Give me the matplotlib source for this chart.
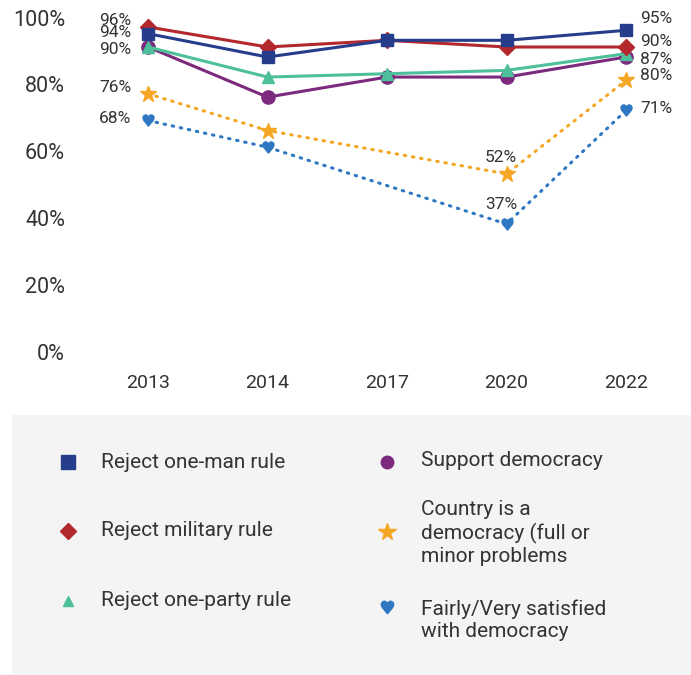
import numpy as np
import matplotlib
matplotlib.use('Agg')
import matplotlib.pyplot as plt
from matplotlib.transforms import ScaledTranslation

# Dane
years = ['2013', '2014', '2017', '2020', '2022']
one_man = [94, 87, 92, 92, 95]
military = [96, 90, 92, 90, 90]
one_party = [90, 81, 82, 83, 88]
support = [90, 75, 81, 81, 87]
is_democracy = [76, 65, np.nan, 52, 80]
satisfied = [68, 60, np.nan, 37, 71]

labels_2013 = {'military': '96%', 'one_man': '94%', 'one_party': '90%',
               'is_democracy': '76%', 'satisfied': '68%'}
labels_2020 = {'is_democracy': '52%', 'satisfied': '37%'}
labels_2022 = {'one_man': '95%', 'military': '90%', 'support': '87%',
               'is_democracy': '80%', 'satisfied': '71%'}

legend_names = ['Reject one-man rule', 'Reject military rule', 'Reject one-party rule',
                'Support democracy', 'Country is a\ndemocracy (full or\nminor problems',
                'Fairly/Very satisfied\nwith democracy']

# Stil
NAVY = '#263d8c'
RED = '#b3282d'
GREEN = '#4dbf9a'
PURPLE = '#7b2a7d'
ORANGE = '#f5a623'
BLUE = '#2f77c2'
TXT = '#333333'
HEART = '$\u2665$'

plt.rcParams['font.family'] = ['Roboto', 'DejaVu Sans']

W, H = 691, 675
fig = plt.figure(figsize=(W / 100, H / 100), dpi=100)


def fx(px):
    return px / W


def fy(py):
    return 1 - py / H


# Grafic principal
ax = fig.add_axes([fx(90), fy(362), fx(680) - fx(90), fy(5) - fy(362)])
x = np.arange(len(years))
x0, step = 148, 119.5
ax.set_xlim((90 - x0) / step, (680 - x0) / step)
ax.set_ylim((347.6 - 362) / 3.34, (347.6 - 5) / 3.34)

DOT = (0, (0.5, 2.2))
series = {
    'one_man': (one_man, NAVY, 's', 9, '-'),
    'military': (military, RED, 'D', 8, '-'),
    'one_party': (one_party, GREEN, '^', 9, '-'),
    'support': (support, PURPLE, 'o', 9.5, '-'),
    'is_democracy': (is_democracy, ORANGE, '*', 12, DOT),
    'satisfied': (satisfied, BLUE, HEART, 8, DOT),
}
order = ['satisfied', 'is_democracy', 'support', 'one_party', 'military', 'one_man']
for key in order:
    vals, col, mk, ms, ls = series[key]
    vals = np.array(vals, dtype=float)
    ok = ~np.isnan(vals)
    lw = 2.2 if ls == '-' else 2.2
    ax.plot(x[ok], vals[ok], color=col, lw=lw, ls=ls, marker=mk, ms=ms,
            dash_capstyle='round', solid_capstyle='round', clip_on=False)

# Etichete valori (decalaj in unitati procentuale)
off_2013 = {'military': 2.0, 'one_man': 0.2, 'one_party': -0.6,
            'is_democracy': 2.0, 'satisfied': 0.7}
for key, txt in labels_2013.items():
    v = series[key][0][0]
    ax.annotate(txt, (0, v + off_2013[key]), xytext=(-12, 0), textcoords='offset points',
                ha='right', va='center', fontsize=12.5, color=TXT)
off_2020 = {'is_democracy': 11.5, 'satisfied': 13.7}
for key, txt in labels_2020.items():
    v = series[key][0][3]
    ax.annotate(txt, (3, v), xytext=(-4, off_2020[key]), textcoords='offset points',
                ha='center', va='center', fontsize=12.5, color=TXT)
off_2022 = {'one_man': 3.4, 'military': 1.5, 'support': -0.6,
            'is_democracy': 1.6, 'satisfied': 0.7}
for key, txt in labels_2022.items():
    v = series[key][0][4]
    ax.annotate(txt, (4, v + off_2022[key]), xytext=(10, 0), textcoords='offset points',
                ha='left', va='center', fontsize=12.5, color=TXT)

ax.set_xticks(x)
ax.set_xticklabels(years, fontsize=14, color=TXT)
ax.set_yticks(np.arange(0, 101, 20))
ax.set_yticklabels([f'{t}%' for t in range(0, 101, 20)], fontsize=15.5, color=TXT)
ax.tick_params(axis='y', length=0, pad=18)
ax.tick_params(axis='x', length=0, pad=9)
shift = ScaledTranslation(0, -4 / 100, fig.dpi_scale_trans)
for lab in ax.get_yticklabels():
    lab.set_transform(lab.get_transform() + shift)
for s in ax.spines.values():
    s.set_visible(False)
ax.patch.set_alpha(0)

# Legenda (panou gri)
leg = fig.add_axes([fx(12), 0, 1 - fx(12), fy(415)])
leg.set_facecolor('#f4f4f4')
leg.set_xticks([])
leg.set_yticks([])
for s in leg.spines.values():
    s.set_visible(False)

leg_items = [
    (68, 462, NAVY, 's', 10, 101, 462),
    (68, 531, RED, 'D', 8.5, 101, 531),
    (68, 601, GREEN, '^', 7.5, 101, 600),
    (387, 462, PURPLE, 'o', 9, 421, 461),
    (387, 532, ORANGE, '*', 13, 421, 533),
    (387, 607, BLUE, HEART, 9, 421, 620),
]
for (mx, my, col, mk, ms, tx, ty), name in zip(leg_items, legend_names):
    fig.lines.append(plt.Line2D([fx(mx)], [fy(my)], transform=fig.transFigure,
                                marker=mk, color=col, ms=ms, ls='none'))
    fig.text(fx(tx), fy(ty), name, ha='left', va='center', fontsize=15,
             color=TXT, linespacing=1.2)

fig.savefig('out.png', dpi=100)
